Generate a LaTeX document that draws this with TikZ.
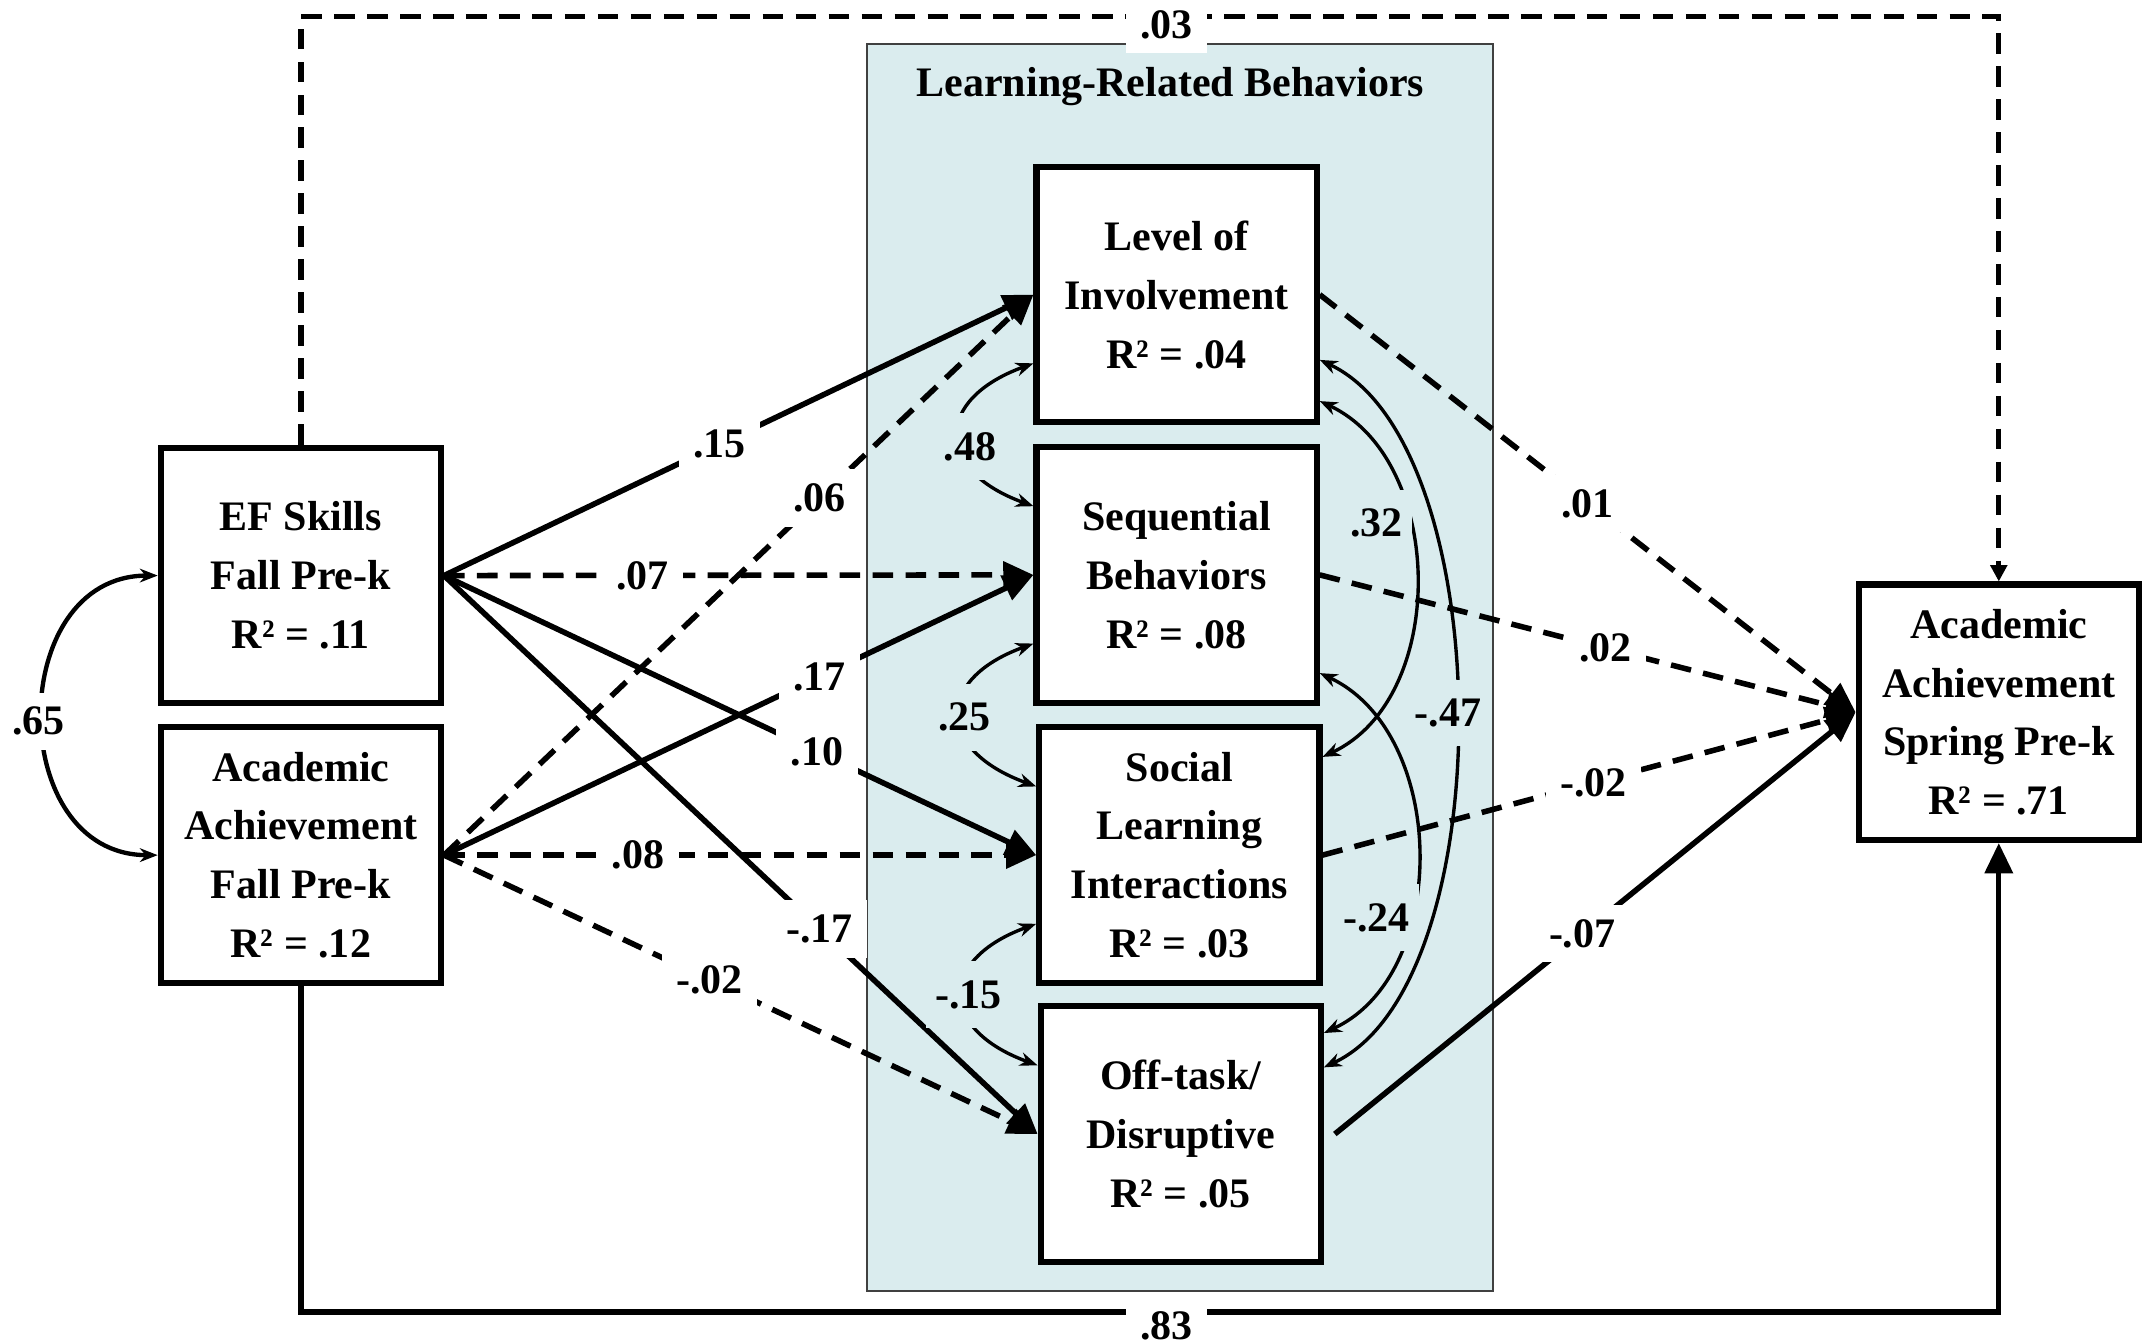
\documentclass[tikz,border=0pt]{standalone}
\usepackage{fontspec}
\setmainfont{Liberation Serif}
\usepackage{xcolor}
\usetikzlibrary{arrows.meta,positioning,calc}
\definecolor{lrbfill}{RGB}{218,236,238}

\begin{document}
\begin{tikzpicture}[
    font=\fontsize{8.7}{12.2}\selectfont\bfseries,
    box/.style={draw, line width=1.25pt, fill=white, minimum width=2.04cm, minimum height=1.86cm, align=center, inner sep=0pt},
    coef/.style={line width=1.15pt, -{Triangle[length=0.22cm, width=0.19cm]}},
    nsdash/.style={dash pattern=on 0.15cm off 0.09cm},
    corr/.style={line width=0.7pt, {Stealth[length=0.13cm, width=0.1cm]}-{Stealth[length=0.13cm, width=0.1cm]}},
    lab/.style={fill=white, inner xsep=3pt, inner ysep=3pt},
    corrlab/.style={fill=lrbfill, inner xsep=2pt, inner ysep=4pt}
]
    \useasboundingbox (0,0) rectangle (15.68,-9.77);

    % Learning-related behaviors panel
    \draw[fill=lrbfill, draw=black!75, line width=0.45pt] (6.31,-0.32) rectangle (10.87,-9.40);
    \node (lrbtitle) at (8.52,-0.63) {Learning-Related Behaviors};

    % Boxes
    \node[box] (ef) at (2.19,-4.19) {EF Skills\\Fall Pre-k\\R² = .11};
    \node[box] (aafall) at (2.19,-6.225) {Academic\\Achievement\\Fall Pre-k\\R² = .12};
    \node[box] (inv) at (8.565,-2.145) {Level of\\Involvement\\R² = .04};
    \node[box] (seq) at (8.565,-4.185) {Sequential\\Behaviors\\R² = .08};
    \node[box] (soc) at (8.585,-6.225) {Social\\Learning\\Interactions\\R² = .03};
    \node[box] (off) at (8.595,-8.255) {Off-task/\\Disruptive\\R² = .05};
    \node[box] (aaspring) at (14.55,-5.185) {Academic\\Achievement\\Spring Pre-k\\R² = .71};

    % Fall measures -> behaviors
    \draw[coef] (ef.east) -- node[lab, pos=.467] (l15) {.15} (inv.west);
    \draw[coef, nsdash] (ef.east) -- node[lab, pos=.337] (l07) {.07} (seq.west);
    \draw[coef] (ef.east) -- node[lab, pos=.63] (l10) {.10} (soc.west);
    \draw[coef] (ef.east) -- node[lab, pos=.633] (l17n) {-.17} (off.west);
    \draw[coef, nsdash] (aafall.east) -- node[lab, pos=.637] (l06) {.06} (inv.west);
    \draw[coef] (aafall.east) -- node[lab, pos=.637] (l17) {.17} (seq.west);
    \draw[coef, nsdash] (aafall.east) -- node[lab, pos=.328] (l08) {.08} (soc.west);
    \draw[coef, nsdash] (aafall.east) -- node[lab, pos=.447] (l02n) {-.02} (off.west);

    % Behaviors -> spring achievement
    \draw[coef, nsdash] (inv.east) -- node[lab, pos=.5] (l01) {.01} (aaspring.west);
    \draw[coef, nsdash] (seq.east) -- node[lab, pos=.533] (l02) {.02} (aaspring.west);
    \draw[coef, nsdash] (soc.east) -- node[lab, pos=.508] (l02m) {-.02} (aaspring.west);
    \draw[coef] ([xshift=0.08cm]off.east) -- node[lab, pos=.475] (l07n) {-.07} (aaspring.west);

    % Fall -> spring (outer paths)
    \coordinate (topline) at (0,-0.12);
    \coordinate (botline) at (0,-9.55);
    \draw[line width=1.1pt, nsdash, -{Triangle[length=0.12cm, width=0.12cm]}] (ef.north) -- (ef.north |- topline) -| (aaspring.north);
    \draw[line width=1.1pt, -{Triangle[length=0.22cm, width=0.2cm]}] (aafall.south) -- (aafall.south |- botline) -| (aaspring.south);
    \node[lab] (l03) at (8.49,-0.18) {.03};
    \node[lab] (l83) at (8.49,-9.65) {.83};

    % Correlations
    \draw[corr, line width=0.9pt] (ef.west) to[out=180, in=180, looseness=1.4] (aafall.west);
    \node[lab] (r65) at (0.28,-5.25) {.65};

    \foreach \a/\b in {inv/seq, seq/soc, soc/off}
        \draw[corr] ([yshift=-0.5cm]\a.west) to[out=200, in=160, looseness=1.9] ([yshift=0.5cm]\b.west);
    \node[corrlab] (r48) at (7.06,-3.25) {.48};
    \node[corrlab] (r25) at (7.02,-5.22) {.25};
    \node[corrlab] (r15) at (7.05,-7.24) {-.15};

    \draw[corr] ([yshift=-0.775cm]inv.east) to[out=-25, in=25, looseness=1] ([yshift=0.715cm]soc.east);
    \draw[corr] ([yshift=-0.475cm]inv.east) to[out=-25, in=25, looseness=0.715] ([yshift=0.485cm]off.east);
    \draw[corr] ([yshift=-0.715cm]seq.east) to[out=-25, in=25, looseness=1] ([yshift=0.735cm]off.east);
    \node[corrlab] (r32) at (10.02,-3.81) {.32};
    \node[corrlab] (r47) at (10.54,-5.19) {-.47};
    \node[corrlab] (r24) at (10.02,-6.68) {-.24};
\end{tikzpicture}
\end{document}
